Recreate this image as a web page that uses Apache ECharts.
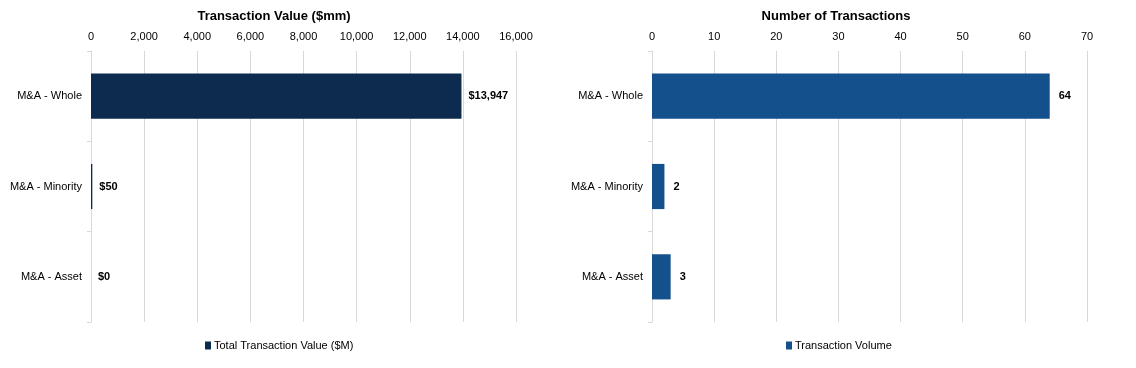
<!DOCTYPE html>
<html><head><meta charset="utf-8">
<script src="https://cdn.jsdelivr.net/npm/echarts@6/dist/echarts.min.js"></script>
<style>html,body{margin:0;padding:0;background:#fff}#c{width:1136px;height:368px}</style>
</head><body><div id="c"></div>
<script>
const categories = ["M&A - Whole", "M&A - Minority", "M&A - Asset"];
const valueData = [13947, 50, 0];
const countData = [64, 2, 3];
const valueTitle = "Transaction Value ($mm)";
const countTitle = "Number of Transactions";
const valueSeriesName = "Total Transaction Value ($M)";
const countSeriesName = "Transaction Volume";

const font = "Liberation Sans, Arial, sans-serif";
const fmtNum = v => v.toLocaleString('en-US');
const chart = echarts.init(document.getElementById('c'));
const catAxis = (gi) => ({
  type: 'category', gridIndex: gi, data: categories, inverse: true,
  axisLine: {lineStyle: {color: '#d9d9d9'}},
  axisTick: {show: true, length: 4, lineStyle: {color: '#d9d9d9'}},
  axisLabel: {color: '#000', fontFamily: font, fontSize: 11, margin: 9}
});
const valAxis = (gi, max, interval, fmt) => ({
  type: 'value', gridIndex: gi, position: 'top', min: 0, max: max, interval: interval,
  axisLine: {show: false}, axisTick: {show: false},
  splitLine: {lineStyle: {color: '#d9d9d9'}},
  axisLabel: {color: '#000', fontFamily: font, fontSize: 11, margin: 9, formatter: fmt}
});
chart.setOption({
  animation: false,
  textStyle: {fontFamily: font},
  title: [
    {text: valueTitle, left: 269, top: 5, textAlign: 'center',
     textStyle: {fontFamily: font, fontSize: 13, fontWeight: 'bold', color: '#000'}},
    {text: countTitle, left: 831, top: 5, textAlign: 'center',
     textStyle: {fontFamily: font, fontSize: 13, fontWeight: 'bold', color: '#000'}}
  ],
  legend: [
    {data: [valueSeriesName], left: 200, top: 335, icon: 'rect', itemWidth: 6, itemHeight: 8, itemGap: 4,
     textStyle: {fontFamily: font, fontSize: 11, color: '#000', padding: [0,0,0,-2]}},
    {data: [countSeriesName], left: 781, top: 335, icon: 'rect', itemWidth: 6, itemHeight: 8, itemGap: 4,
     textStyle: {fontFamily: font, fontSize: 11, color: '#000', padding: [0,0,0,-2]}}
  ],
  grid: [
    {left: 91, right: 620, top: 51, bottom: 46},
    {left: 652, right: 49, top: 51, bottom: 46}
  ],
  xAxis: [valAxis(0, 16000, 2000, v => fmtNum(v)), valAxis(1, 70, 10, v => v)],
  yAxis: [catAxis(0), catAxis(1)],
  series: [
    {name: valueSeriesName, type: 'bar', xAxisIndex: 0, yAxisIndex: 0, data: valueData,
     barWidth: '50%', itemStyle: {color: '#0c2b4f'},
     label: {show: true, position: 'right', distance: 7, fontFamily: font, fontSize: 11, fontWeight: 'bold', color: '#000',
       formatter: p => '$' + fmtNum(p.value)}},
    {name: countSeriesName, type: 'bar', xAxisIndex: 1, yAxisIndex: 1, data: countData,
     barWidth: '50%', itemStyle: {color: '#14508b'},
     label: {show: true, position: 'right', distance: 9, fontFamily: font, fontSize: 11, fontWeight: 'bold', color: '#000'}}
  ]
});
</script></body></html>
